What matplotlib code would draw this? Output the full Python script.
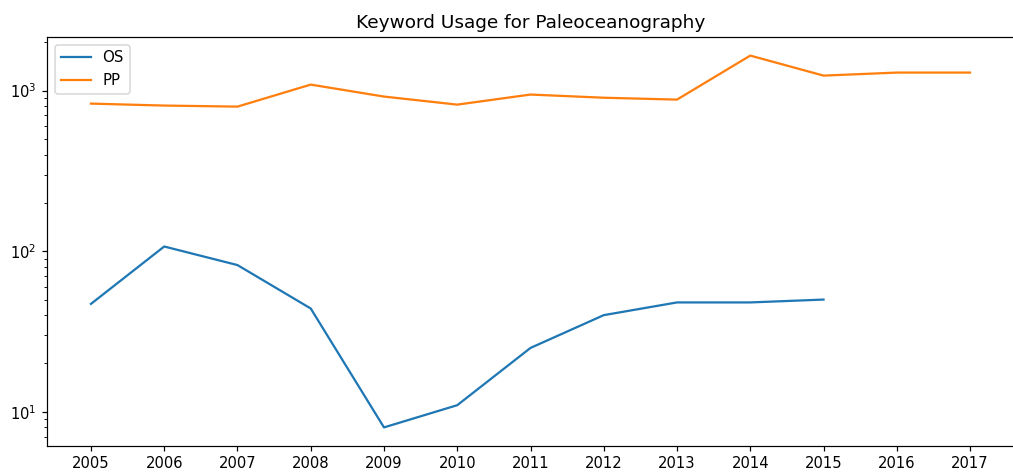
import matplotlib
matplotlib.use("Agg")
import matplotlib.pyplot as plt

years_os = [2005, 2006, 2007, 2008, 2009, 2010, 2011, 2012, 2013, 2014, 2015]
os_counts = [47, 107, 82, 44, 8, 11, 25, 40, 48, 48, 50]

years_pp = [2005, 2006, 2007, 2008, 2009, 2010, 2011, 2012, 2013, 2014, 2015, 2016, 2017]
pp_counts = [830, 807, 795, 1090, 918, 818, 945, 903, 879, 1652, 1240, 1295, 1295]

DPI = 108
fig = plt.figure(figsize=(1013 / DPI, 476 / DPI), dpi=DPI)
ax = fig.add_axes([47 / 1013, 30 / 476, 967 / 1013, 409 / 476])
ax.plot(years_os, os_counts, label="OS", linewidth=1.5)
ax.plot(years_pp, pp_counts, label="PP", linewidth=1.5)
ax.set_yscale("log")
ax.set_xticks(years_pp)
ax.tick_params(labelsize=9.8)
ax.set_title("Keyword Usage for Paleoceanography", fontsize=12.3)
ax.legend(loc="upper left")
fig.savefig("out.png", dpi=DPI)
